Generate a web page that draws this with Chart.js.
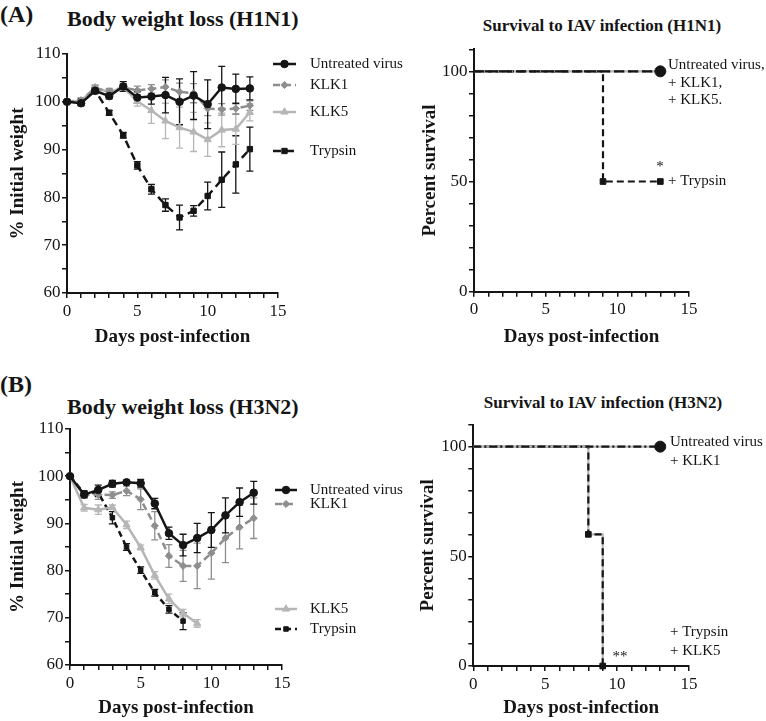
<!DOCTYPE html>
<html><head><meta charset="utf-8">
<script src="https://cdn.jsdelivr.net/npm/chart.js@4.4.1/dist/chart.umd.min.js"></script>
<style>
body{margin:0;background:#fff;width:766px;height:721px;overflow:hidden;position:relative;font-family:"Liberation Serif","Times New Roman",serif;}
canvas{position:absolute;}
.t{position:absolute;font-weight:bold;color:#151515;white-space:nowrap;line-height:1;transform:translateY(-50%);}
.c{transform:translate(-50%,-50%);}
.warm{position:absolute;left:-999px;top:-999px;font-family:"Liberation Serif";}
</style></head><body>
<div class="warm">Days 0123456789 <b>Days post-infection</b></div>
<div class="t" style="left:0px;top:14px;font-size:24px">(A)</div>
<div class="t" style="left:67px;top:19px;font-size:22px">Body weight loss (H1N1)</div>
<div class="t c" style="left:602px;top:25px;font-size:17px">Survival to IAV infection (H1N1)</div>
<div class="t" style="left:0px;top:384px;font-size:24px">(B)</div>
<div class="t" style="left:67px;top:407px;font-size:22px">Body weight loss (H3N2)</div>
<div class="t c" style="left:603px;top:402px;font-size:17px">Survival to IAV infection (H3N2)</div>
<canvas id="cA1" width="420" height="320" style="left:0;top:30px"></canvas>
<canvas id="cB1" width="420" height="331" style="left:0;top:390px"></canvas>
<canvas id="cA2" width="386" height="320" style="left:380px;top:30px"></canvas>
<canvas id="cB2" width="386" height="331" style="left:380px;top:390px"></canvas>
<script>
// ---------- DATA ----------
const days = [0,1,2,3,4,5,6,7,8,9,10,11,12,13];
const xTickLabels = [0,5,10,15];
const weightTickLabels = [60,70,80,90,100,110];
const survivalTickLabels = [0,50,100];

// H1N1 body weight (% initial), mean and error
const untreatedH1    = [100, 99.7, 102.3, 101.2, 103.2, 100.9, 101.1, 101.4, 100.0, 101.3, 99.5, 103.0, 102.7, 102.8];
const untreatedH1Err = [0.3, 0.5, 0.6, 0.6, 1.0, 1.2, 1.6, 3.7, 4.8, 5.0, 5.1, 4.4, 3.1, 2.4];
const klk1H1         = [100, 100.3, 102.8, 102.2, 103.0, 102.4, 102.7, 103.1, 102.1, 101.8, 98.6, 98.4, 98.6, 99.2];
const klk1H1Err      = [0.3, 0.5, 0.6, 0.6, 0.8, 0.9, 0.9, 1.5, 1.8, 2.0, 1.5, 1.2, 1.2, 1.0];
const klk5H1         = [100, 100.2, 103.0, 102.0, 103.0, 100.1, 98.2, 96.0, 94.6, 93.7, 92.1, 94.1, 94.3, 97.8];
const klk5H1Err      = [0.3, 0.5, 0.6, 0.6, 0.8, 1.0, 2.7, 3.7, 4.3, 4.1, 3.5, 3.5, 3.2, 1.8];
const trypsinH1      = [100, 100.1, 102.4, 97.7, 93.0, 86.7, 81.7, 78.4, 75.8, 77.2, 80.3, 83.7, 86.9, 90.1];
const trypsinH1Err   = [0.3, 0.4, 0.6, 0.5, 0.6, 0.8, 1.0, 1.3, 2.6, 1.1, 2.9, 5.8, 6.0, 4.6];

// H3N2 body weight
const untreatedH3    = [100, 96.1, 97.1, 98.4, 98.7, 98.5, 94.2, 87.9, 85.4, 86.9, 88.6, 91.7, 94.5, 96.5];
const untreatedH3Err = [0.3, 0.7, 1.0, 0.7, 0.4, 0.8, 1.1, 1.3, 2.3, 3.1, 3.7, 3.7, 3.0, 2.4];
const klk1H3         = [100, 96.0, 96.1, 96.0, 96.9, 95.1, 89.5, 83.1, 81.0, 81.0, 83.7, 86.9, 89.2, 91.1];
const klk1H3Err      = [0.3, 0.5, 1.0, 0.7, 1.0, 2.2, 3.0, 2.4, 3.3, 4.8, 5.5, 5.2, 4.6, 4.3];
const klk5H3         = [100, 93.3, 92.9, 93.4, 89.7, 84.9, 79.0, 74.0, 71.0, 68.8];
const klk5H3Err      = [0.3, 0.7, 1.0, 0.5, 0.8, 0.5, 0.8, 1.0, 0.8, 0.8];
const trypsinH3      = [100, 96.4, 96.5, 91.2, 85.0, 80.1, 75.3, 71.8, 69.3];
const trypsinH3Err   = [0.3, 0.5, 0.8, 1.3, 0.7, 0.7, 0.7, 0.8, 1.8];

// Survival (percent)
const survH1Days      = [0, 13];
const survH1Untreated = [100, 100];
const survH1KLK1      = [100, 100];
const survH1KLK5      = [100, 100];
const survH1TrypDays  = [0, 9, 13];
const survH1Trypsin   = [100, 50, 50];

const survH3Days      = [0, 13];
const survH3Untreated = [100, 100];
const survH3KLK1      = [100, 100];
const survH3TrypDays  = [0, 8, 9];
const survH3Trypsin   = [100, 60, 0];
const survH3KLK5      = [100, 60, 0];

// ---------- STYLE ----------
const serif = '"Liberation Serif", serif';
const BLACK = '#151515', GRAY = '#8e8e8e', LIGHT = '#b6b6b6';
const TICK_SIZE = 17, TITLE_SIZE = 19;

function pts(xs, ys){ return ys.map((v,i)=>({x:xs[i], y:v})); }

const errorBars = {
  id:'errorBars',
  beforeDatasetsDraw(chart){
    const {ctx} = chart; const x = chart.scales.x, y = chart.scales.y;
    for (let di = chart.data.datasets.length-1; di >= 0; di--){
      const ds = chart.data.datasets[di];
      if (!ds.errors) continue;
      ctx.save();
      ctx.strokeStyle = ds.borderColor; ctx.lineWidth = 1.3; ctx.setLineDash([]);
      ds.data.forEach((p,i)=>{
        const e = ds.errors[i]; if (!e) return;
        const px = x.getPixelForValue(p.x), top = y.getPixelForValue(p.y+e), bot = y.getPixelForValue(p.y-e);
        ctx.beginPath();
        ctx.moveTo(px,top); ctx.lineTo(px,bot);
        ctx.moveTo(px-3.5,top); ctx.lineTo(px+3.5,top);
        ctx.moveTo(px-3.5,bot); ctx.lineTo(px+3.5,bot);
        ctx.stroke();
      });
      ctx.restore();
    }
  }
};

const sideLegend = {
  id:'sideLegend',
  afterDraw(chart, args, opts){
    const ctx = chart.ctx;
    (opts.items||[]).forEach(it=>{
      const ds = chart.data.datasets[it.ds];
      ctx.save();
      ctx.strokeStyle = ds.borderColor; ctx.lineWidth = ds.borderWidth;
      ctx.setLineDash(ds.borderDash || []);
      ctx.beginPath(); ctx.moveTo(it.x0, it.y); ctx.lineTo(it.x1, it.y); ctx.stroke();
      ctx.setLineDash([]);
      ctx.fillStyle = ds.borderColor; ctx.strokeStyle = ds.borderColor; ctx.lineWidth = 1;
      Chart.helpers.drawPoint(ctx, {pointStyle: ds.pointStyle, radius: ds.pointRadius, rotation: 0, borderWidth: 1}, (it.x0+it.x1)/2, it.y);
      ctx.fillStyle = BLACK; ctx.font = '15px ' + serif; ctx.textBaseline = 'middle'; ctx.textAlign = 'left';
      ctx.fillText(ds.label, it.tx, it.y);
      ctx.restore();
    });
    (opts.texts||[]).forEach(t=>{
      ctx.save();
      ctx.fillStyle = BLACK; ctx.font = (t.size||15) + 'px ' + serif; ctx.textBaseline = 'middle';
      ctx.textAlign = t.align || 'left';
      ctx.fillText(t.t, t.x, t.y);
      ctx.restore();
    });
  }
};

function xScale(h){
  return {
    type:'linear', min:0, max:15,
    border:{display:true, color:BLACK, width:2},
    grid:{display:true, drawOnChartArea:false, drawTicks:true, tickLength:5, color:BLACK, lineWidth:1.5},
    ticks:{stepSize:1, autoSkip:false, maxRotation:0, padding:3, color:BLACK, font:{family:serif, size:TICK_SIZE},
      callback:v => xTickLabels.includes(v) ? String(v) : ''},
    title:{display:true, text:'Days post-infection', color:BLACK, font:{family:serif, size:TITLE_SIZE, weight:'bold'}, padding:{top:0, bottom:1.6}},
    afterFit: s => { s.height = h; }
  };
}
function yScale(min, max, step, labels, title, w, titlePad){
  return {
    type:'linear', min:min, max:max,
    border:{display:true, color:BLACK, width:2},
    grid:{display:true, drawOnChartArea:false, drawTicks:true, tickLength:5, color:BLACK, lineWidth:1.5},
    ticks:{stepSize:step, autoSkip:false, padding:1.5, color:BLACK, font:{family:serif, size:TICK_SIZE},
      callback:v => labels.includes(v) ? String(v) : ''},
    title:{display:true, text:title, color:BLACK, font:{family:serif, size:TITLE_SIZE, weight:'bold'}, padding:{top:titlePad, bottom:0}},
    afterFit: s => { s.width = w; }
  };
}
function weightDs(label, ys, errs, color, dash, style, r){
  return {label, data:pts(days, ys), errors:errs, borderColor:color, backgroundColor:color,
    pointBackgroundColor:color, pointBorderColor:color, borderWidth:2.5, borderDash:dash,
    pointStyle:style, pointRadius:r, pointBorderWidth:1, tension:0, clip:false};
}
function survDs(label, xs, ys, color, dash, style, radii, stepped){
  return {label, data:pts(xs, ys), borderColor:color, backgroundColor:color,
    pointBackgroundColor:color, pointBorderColor:color, borderWidth:2.2, borderDash:dash,
    pointStyle:style, pointRadius:radii, pointBorderWidth:1, tension:0, stepped:stepped||false, clip:false};
}
function baseOptions(pad, xs, ys, legendCfg){
  return {
    responsive:false, animation:false, events:[], devicePixelRatio:1,
    layout:{padding:pad, autoPadding:false},
    plugins:{legend:{display:false}, tooltip:{enabled:false}, sideLegend:legendCfg},
    scales:{x:xs, y:ys}
  };
}

function drawAll(){
  Chart.defaults.font.family = serif;
  // ---------- A: weight H1N1 ----------
  new Chart(document.getElementById('cA1'), {
    type:'line',
    data:{datasets:[
      weightDs('Untreated virus', untreatedH1, untreatedH1Err, BLACK, [], 'circle', 3.8),
      weightDs('KLK1', klk1H1, klk1H1Err, GRAY, [7,4], 'rectRot', 3.6),
      weightDs('KLK5', klk5H1, klk5H1Err, LIGHT, [], 'triangle', 4.2),
      weightDs('Trypsin', trypsinH1, trypsinH1Err, BLACK, [8,5], 'rect', 3.8)
    ]},
    options: baseOptions({left:0, top:24, right:142, bottom:0},
      xScale(57), yScale(60, 110, 5, weightTickLabels, '% Initial weight', 67, 6.6),
      {items:[
        {ds:0, x0:273, x1:296, tx:310, y:34},
        {ds:1, x0:273, x1:296, tx:310, y:55},
        {ds:2, x0:273, x1:296, tx:310, y:82},
        {ds:3, x0:273, x1:296, tx:310, y:121}
      ]}),
    plugins:[errorBars, sideLegend]
  });

  // ---------- B: weight H3N2 ----------
  new Chart(document.getElementById('cB1'), {
    type:'line',
    data:{datasets:[
      weightDs('Untreated virus', untreatedH3, untreatedH3Err, BLACK, [], 'circle', 3.8),
      weightDs('KLK1', klk1H3, klk1H3Err, GRAY, [7,4], 'rectRot', 3.6),
      weightDs('KLK5', klk5H3, klk5H3Err, LIGHT, [], 'triangle', 4.2),
      weightDs('Trypsin', trypsinH3, trypsinH3Err, BLACK, [6,4], 'rect', 3.2)
    ]},
    options: baseOptions({left:0, top:39, right:138, bottom:0},
      xScale(56), yScale(60, 110, 5, weightTickLabels, '% Initial weight', 70, 6.6),
      {items:[
        {ds:0, x0:275, x1:297, tx:310, y:100},
        {ds:1, x0:275, x1:297, tx:310, y:114},
        {ds:2, x0:275, x1:297, tx:310, y:219},
        {ds:3, x0:275, x1:297, tx:310, y:239}
      ]}),
    plugins:[errorBars, sideLegend]
  });

  // ---------- A: survival H1N1 ----------
  new Chart(document.getElementById('cA2'), {
    type:'line',
    data:{datasets:[
      survDs('Untreated virus', survH1Days, survH1Untreated, BLACK, [10,4], 'circle', [0,5.5]),
      survDs('KLK1', survH1Days, survH1KLK1, GRAY, [4,3], 'circle', 0),
      survDs('Trypsin', survH1TrypDays, survH1Trypsin, BLACK, [7,4], 'rect', [0,4,4], true),
      survDs('KLK5', survH1Days, survH1KLK5, LIGHT, [], 'circle', 0)
    ]},
    options: baseOptions({left:0, top:19.3, right:77, bottom:0},
      xScale(58.3), yScale(0, 110, 10, survivalTickLabels, 'Percent survival', 94, 38.6),
      {texts:[
        {t:'Untreated virus,', x:288, y:35},
        {t:'+ KLK1,', x:288, y:53},
        {t:'+ KLK5.', x:288, y:70},
        {t:'*', x:280, y:137, align:'center'},
        {t:'+ Trypsin', x:288, y:151}
      ]}),
    plugins:[sideLegend]
  });

  // ---------- B: survival H3N2 ----------
  new Chart(document.getElementById('cB2'), {
    type:'line',
    data:{datasets:[
      survDs('Untreated virus', survH3Days, survH3Untreated, BLACK, [8,3,2,3], 'circle', [0,5.5]),
      survDs('KLK1', survH3Days, survH3KLK1, LIGHT, [], 'circle', 0),
      survDs('Trypsin', survH3TrypDays, survH3Trypsin, BLACK, [7,4], 'rect', [0,4,4], true),
      survDs('KLK5', survH3TrypDays, survH3KLK5, LIGHT, [], 'rect', 0, true)
    ]},
    options: baseOptions({left:0, top:34.7, right:77, bottom:0},
      xScale(55), yScale(0, 110, 10, survivalTickLabels, 'Percent survival', 93.3, 36.6),
      {texts:[
        {t:'Untreated virus', x:290, y:52},
        {t:'+ KLK1', x:290, y:71},
        {t:'+ Trypsin', x:290, y:242},
        {t:'+ KLK5', x:290, y:261},
        {t:'**', x:240, y:267, align:'center'}
      ]}),
    plugins:[sideLegend]
  });
}

Promise.all([
  document.fonts.load('17px "Liberation Serif"'),
  document.fonts.load('bold 19px "Liberation Serif"')
]).then(drawAll, drawAll);
</script>
</body></html>
